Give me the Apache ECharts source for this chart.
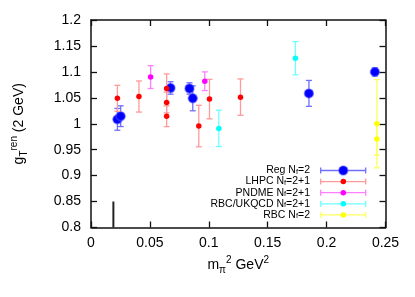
<!DOCTYPE html>
<html>
<head>
<meta charset="utf-8">
<script src="https://cdn.jsdelivr.net/npm/echarts@6/dist/echarts.min.js"></script>
<style>
html,body{margin:0;padding:0;background:#fff;}
#c{width:415px;height:297px;}
</style>
</head>
<body>
<div id="c"></div>
<script>
// ---- data ----
const xTicks = [0, 0.05, 0.1, 0.15, 0.2, 0.25];
const yTicks = [0.8, 0.85, 0.9, 0.95, 1, 1.05, 1.1, 1.15, 1.2];

const regX   = [0.0224, 0.0252, 0.0675, 0.0836, 0.0864, 0.185, 0.241];
const regY   = [1.0085, 1.0146, 1.069, 1.068, 1.049, 1.0585, 1.100];
const regErr = [0.021, 0.020, 0.012, 0.011, 0.024, 0.025, 0.008];

const lhpcX   = [0.0224, 0.0407, 0.0642, 0.0642, 0.0642, 0.0915, 0.1006, 0.1269];
const lhpcY   = [1.049, 1.0525, 1.068, 1.041, 1.0145, 0.9956, 1.0475, 1.0513];
const lhpcErr = [0.025, 0.030, 0.028, 0.020, 0.020, 0.040, 0.038, 0.035];

const pndmeX   = [0.0506, 0.0966];
const pndmeY   = [1.0900, 1.082];
const pndmeErr = [0.022, 0.018];

const rbcukX   = [0.1085, 0.1735];
const rbcukY   = [0.991, 1.1264];
const rbcukErr = [0.035, 0.032];

const rbcX   = [0.2427, 0.2427];
const rbcY   = [1.000, 0.9706];
const rbcErr = [0.085, 0.031];

const physX = [0.019, 0.019];
const physY = [0.80, 0.85];

const legendNames = ['Reg N{s|f}=2', 'LHPC N{s|f}=2+1', 'PNDME N{s|f}=2+1', 'RBC/UKQCD N{s|f}=2+1', 'RBC N{s|f}=2'];

// ---- styles ----
const FONT = 'Liberation Sans, Arial, Helvetica, sans-serif';
const groups = [
  {x: regX,   y: regY,   e: regErr,   color: '#0000ff', bar: '#6f6fff', size: 9, border: 'rgba(80,80,255,0.5)'},
  {x: lhpcX,  y: lhpcY,  e: lhpcErr,  color: '#ff0000', bar: '#ff9a9a', size: 5.5},
  {x: pndmeX, y: pndmeY, e: pndmeErr, color: '#ff00ff', bar: '#ff80ff', size: 5.5},
  {x: rbcukX, y: rbcukY, e: rbcukErr, color: '#00ffff', bar: '#70ffff', size: 5.5},
  {x: rbcX,   y: rbcY,   e: rbcErr,   color: '#ffff00', bar: '#ffff60', size: 5.5}
];

function errRender(color) {
  return function (params, api) {
    const x = api.value(0), y = api.value(1), e = api.value(2);
    const lo = api.coord([x, y - e]);
    const hi = api.coord([x, y + e]);
    const hw = 3;
    const st = {stroke: color, lineWidth: 1.3};
    return {
      type: 'group',
      children: [
        {type: 'line', shape: {x1: lo[0], y1: lo[1], x2: hi[0], y2: hi[1]}, style: st},
        {type: 'line', shape: {x1: lo[0] - hw, y1: lo[1], x2: lo[0] + hw, y2: lo[1]}, style: st},
        {type: 'line', shape: {x1: hi[0] - hw, y1: hi[1], x2: hi[0] + hw, y2: hi[1]}, style: st}
      ]
    };
  };
}

const series = [];
groups.forEach(function (g, gi) {
  const errData = g.x.map(function (v, i) { return [v, g.y[i], g.e[i]]; });
  const ptData = g.x.map(function (v, i) { return [v, g.y[i]]; });
  series.push({
    type: 'custom', xAxisIndex: 0, yAxisIndex: 0,
    renderItem: errRender(g.bar), data: errData, z: 2 + gi * 2, silent: true,
    clip: false
  });
  series.push({
    type: 'scatter', xAxisIndex: 0, yAxisIndex: 0,
    data: ptData, symbol: 'circle', symbolSize: g.size, z: 3 + gi * 2,
    itemStyle: {color: g.color, opacity: 1, borderColor: g.border || g.color, borderWidth: g.border ? 1.5 : 0},
    silent: true
  });
});
series.push({
  type: 'line', xAxisIndex: 0, yAxisIndex: 0,
  data: physX.map(function (v, i) { return [v, physY[i]]; }),
  showSymbol: false, symbol: 'none', lineStyle: {color: '#222', width: 2}, z: 1, silent: true
});

// legend drawn as graphic
const legX = 310, legTop = 170.5, legStep = 11.1;
const legendGraphics = [];
groups.forEach(function (g, i) {
  const y = legTop + i * legStep;
  legendGraphics.push({
    type: 'text', x: legX, y: y,
    style: {
      text: legendNames[i], x: 0, y: 0, align: 'right', verticalAlign: 'middle',
      fill: '#000', font: '10.5px ' + FONT,
      rich: {s: {fontSize: 7.5, fontFamily: FONT, verticalAlign: 'bottom', lineHeight: 6, fill: '#000'}}
    }
  });
  legendGraphics.push({type: 'line', shape: {x1: 320.7, y1: y, x2: 365.7, y2: y}, style: {stroke: g.bar, lineWidth: 1.3}});
  legendGraphics.push({type: 'line', shape: {x1: 320.7, y1: y - 3, x2: 320.7, y2: y + 3}, style: {stroke: g.bar, lineWidth: 1.3}});
  legendGraphics.push({type: 'line', shape: {x1: 365.7, y1: y - 3, x2: 365.7, y2: y + 3}, style: {stroke: g.bar, lineWidth: 1.3}});
  legendGraphics.push({type: 'circle', shape: {cx: 343.3, cy: y, r: g.size / 2},
    style: {fill: g.color, stroke: g.border || g.color, lineWidth: g.border ? 1.5 : 0}});
});

const axisLineStyle = {color: '#111', width: 1.5};
const labelStyle = {color: '#000', fontFamily: FONT, fontSize: 14};
const chart = echarts.init(document.getElementById('c'), null, {renderer: 'canvas'});
chart.setOption({
  animation: false,
  backgroundColor: '#fff',
  grid: {left: 91, right: 29.5, top: 20, bottom: 69.5, containLabel: false},
  xAxis: [
    {
      type: 'value', min: xTicks[0], max: xTicks[xTicks.length - 1], interval: 0.05,
      position: 'bottom',
      axisLine: {show: true, onZero: false, lineStyle: axisLineStyle},
      axisTick: {show: true, inside: true, length: 6, lineStyle: {color: '#111', width: 1.3}},
      axisLabel: Object.assign({margin: 9}, labelStyle),
      splitLine: {show: false},
      name: 'm{s|π}{p|2} GeV{p|2}', nameLocation: 'middle', nameGap: 23,
      nameTextStyle: {
        color: '#000', fontFamily: FONT, fontSize: 14, lineHeight: 20,
        rich: {
          s: {fontSize: 10, fontFamily: FONT, verticalAlign: 'bottom', lineHeight: 9, color: '#000'},
          p: {fontSize: 10, fontFamily: FONT, verticalAlign: 'top', lineHeight: 9, color: '#000'}
        }
      }
    },
    {
      type: 'value', min: xTicks[0], max: xTicks[xTicks.length - 1], interval: 0.05,
      position: 'top',
      axisLine: {show: true, onZero: false, lineStyle: axisLineStyle},
      axisTick: {show: true, inside: true, length: 6, lineStyle: {color: '#111', width: 1.3}},
      axisLabel: {show: false}, splitLine: {show: false}
    }
  ],
  yAxis: [
    {
      type: 'value', min: yTicks[0], max: yTicks[yTicks.length - 1], interval: 0.05,
      position: 'left',
      axisLine: {show: true, onZero: false, lineStyle: axisLineStyle},
      axisTick: {show: true, inside: true, length: 6, lineStyle: {color: '#111', width: 1.3}},
      axisLabel: Object.assign({margin: 10}, labelStyle),
      splitLine: {show: false},
      name: 'g{s|T}{p|ren} (2 GeV)', nameLocation: 'middle', nameGap: 62, nameRotate: 90,
      nameTextStyle: {
        color: '#000', fontFamily: FONT, fontSize: 14, lineHeight: 20,
        rich: {
          s: {fontSize: 10, fontFamily: FONT, verticalAlign: 'bottom', lineHeight: 9, color: '#000'},
          p: {fontSize: 10, fontFamily: FONT, verticalAlign: 'top', lineHeight: 9, color: '#000'}
        }
      }
    },
    {
      type: 'value', min: yTicks[0], max: yTicks[yTicks.length - 1], interval: 0.05,
      position: 'right',
      axisLine: {show: true, onZero: false, lineStyle: axisLineStyle},
      axisTick: {show: true, inside: true, length: 6, lineStyle: {color: '#111', width: 1.3}},
      axisLabel: {show: false}, splitLine: {show: false}
    }
  ],
  graphic: legendGraphics,
  series: series
});
</script>
</body>
</html>
